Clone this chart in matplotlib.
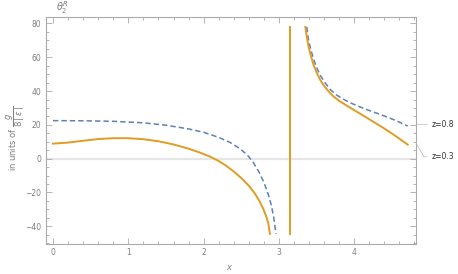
import numpy as np
import matplotlib
matplotlib.use("Agg")
import matplotlib.pyplot as plt
from matplotlib.ticker import MultipleLocator

# z = 0.3 (orange, solid)
x_o_left = [0.0, 0.2, 0.4, 0.6, 0.8, 1.0, 1.2, 1.4, 1.6, 1.8, 1.95, 2.08, 2.2, 2.3, 2.4, 2.5,
            2.6, 2.68, 2.74, 2.79, 2.83, 2.86, 2.88]
y_o_left = [8.9, 9.5, 10.6, 11.6, 12.1, 12.1, 11.5, 10.3, 8.4, 5.9, 3.6, 1.3, -1.4, -4.2, -7.6, -11.5,
            -16.0, -20.6, -25.0, -29.5, -34.0, -38.5, -44.5]
x_o_mid = [3.1416, 3.1416]
y_o_mid = [-44.5, 78.0]
x_o_right = [3.35, 3.37, 3.39, 3.42, 3.46, 3.50, 3.55, 3.60, 3.66, 3.72, 3.80, 3.90, 4.0, 4.1,
             4.2, 4.3, 4.4, 4.5, 4.6, 4.71]
y_o_right = [78.0, 72.0, 67.0, 61.5, 55.5, 51.0, 46.5, 43.0, 39.8, 37.0, 34.2, 31.4, 28.7, 26.0,
             23.3, 20.6, 17.8, 14.9, 11.8, 8.3]

# z = 0.8 (blue, dashed)
x_b_left = [0.0, 0.4, 0.8, 1.2, 1.5, 1.8, 2.0, 2.2, 2.35, 2.48, 2.58, 2.66, 2.74, 2.80, 2.86,
            2.90, 2.93, 2.96]
y_b_left = [22.5, 22.4, 22.1, 21.2, 19.8, 17.6, 15.6, 12.6, 9.6, 6.0, 2.2, -2.3, -8.3, -14.0, -21.3,
            -27.8, -34.5, -44.5]
x_b_right = [3.37, 3.39, 3.42, 3.46, 3.50, 3.55, 3.61, 3.68, 3.76, 3.85, 3.95, 4.05, 4.17, 4.3,
             4.42, 4.55, 4.71]
y_b_right = [78.0, 71.0, 65.0, 59.0, 54.0, 49.3, 45.0, 41.0, 37.8, 35.3, 33.0, 31.1, 29.0, 26.9,
             24.9, 22.6, 19.3]

labels = ["z=0.8", "z=0.3"]

orange = "#E09C24"
blue = "#5E81B5"
framec = "#AAAAAA"
textc = "#7F7F7F"

W, H = 458, 274
fig = plt.figure(figsize=(W / 100, H / 100), dpi=100)
L, R, T, B = 45.7, 416, 16.7, 244
ax = fig.add_axes([L / W, 1 - B / H, (R - L) / W, (B - T) / H])

ax.axhline(0, color="#E6E6E6", lw=1.6, zorder=1)
ax.plot(x_o_left, y_o_left, color=orange, lw=1.4, zorder=3)
ax.plot(x_o_mid, y_o_mid, color=orange, lw=1.4, zorder=3)
ax.plot(x_o_right, y_o_right, color=orange, lw=1.4, zorder=3)
ax.plot(x_b_left, y_b_left, color=blue, lw=1.1, ls=(0, (3.5, 2)), zorder=2)
ax.plot(x_b_right, y_b_right, color=blue, lw=1.1, ls=(0, (3.5, 2)), zorder=2)

ax.set_xlim(-0.097, 4.82)
ax.set_ylim(-50.5, 84.0)

ax.xaxis.set_major_locator(MultipleLocator(1))
ax.xaxis.set_minor_locator(MultipleLocator(0.2))
ax.yaxis.set_major_locator(MultipleLocator(20))
ax.yaxis.set_minor_locator(MultipleLocator(5))
ax.tick_params(which="both", direction="in", top=True, right=True, color=framec, width=0.6,
               labelsize=5.5, labelcolor=textc, pad=3)
ax.tick_params(which="major", length=4)
ax.tick_params(which="minor", length=2)
for s in ax.spines.values():
    s.set_color(framec)
    s.set_linewidth(0.8)

fig.text(230 / W, 1 - 267 / H, "$x$", ha="center", va="center", fontsize=6, color=textc)
fig.text(16 / W, 1 - 138 / H, r"in units of $\dfrac{g}{8\,|\,\epsilon\,|}$", rotation=90,
         ha="center", va="center", fontsize=6, color=textc)
fig.text(62 / W, 1 - 8 / H, r"$\theta_2^R$", ha="center", va="center", fontsize=7, color=textc)

# end labels with callouts
yb_end = y_b_right[-1]
yo_end = y_o_right[-1]
ax.annotate(labels[0], xy=(1.0, yb_end), xycoords=("axes fraction", "data"),
            xytext=(11, 1), textcoords="offset points", fontsize=5.5, color="#333333",
            va="center", ha="left", annotation_clip=False,
            arrowprops=dict(arrowstyle="-", color="#BBBBBB", lw=0.5,
                            connectionstyle="angle,angleA=0,angleB=50,rad=0",
                            shrinkA=1, shrinkB=0))
ax.annotate(labels[1], xy=(1.0, yo_end + 1), xycoords=("axes fraction", "data"),
            xytext=(11, -10), textcoords="offset points", fontsize=5.5, color="#333333",
            va="center", ha="left", annotation_clip=False,
            arrowprops=dict(arrowstyle="-", color="#BBBBBB", lw=0.5,
                            connectionstyle="angle,angleA=0,angleB=-60,rad=0",
                            shrinkA=1, shrinkB=0))

fig.savefig("out.png", dpi=100)
